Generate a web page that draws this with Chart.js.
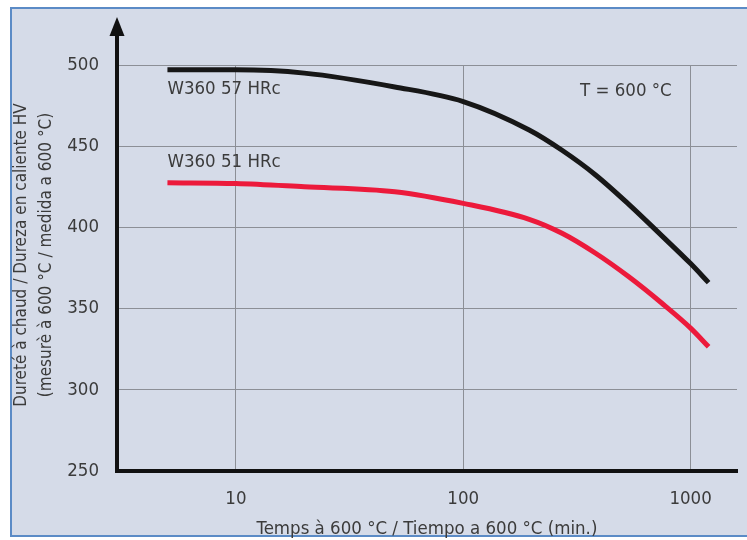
<!DOCTYPE html>
<html lang="es">

<head>
    <meta charset="UTF-8">
    <title>Dureza en caliente W360</title>
    <script src="https://cdn.jsdelivr.net/npm/chart.js"></script>
    <style>
        html, body { margin: 0; padding: 0; background: #fff; }
        #frame {
            position: absolute; left: 10px; top: 7px; width: 737px; height: 530px;
            background: #d5dbe8;
            border-top: 2px solid #5b8bc6; border-left: 2px solid #5b8bc6; border-bottom: 2px solid #5b8bc6;
            box-sizing: border-box;
        }
        #wrap { position: absolute; left: 0; top: 0; width: 747px; height: 540px; }
    </style>
</head>

<body>
    <div id="frame"></div>
    <div id="wrap"><canvas id="hardness"></canvas></div>

<script>
    // tiempo a 600 °C (min.)
    const timeMin = [5, 10, 20, 50, 100, 195, 272, 382, 535, 748, 1000, 1200];
    // W360 57 HRc
    const hv57 = [497, 497, 495, 486.5, 477.5, 460, 447.5, 432.3, 414.2, 394.8, 377.7, 366];
    // W360 51 HRc
    const hv51 = [427.5, 427, 425, 422, 414.8, 405, 396.4, 384.1, 369.6, 353.3, 338, 326.5];
    const xTicks = [10, 100, 1000];
    const yTicks = [250, 300, 350, 400, 450, 500];
    const yTitle = ['Dureté à chaud / Dureza en caliente HV', '(mesurè à 600 °C / medida a 600 °C)'];

    const FONT = "'DejaVu Sans Condensed', 'Liberation Sans Narrow', sans-serif";
    const textColor = '#3b3b3b';

    // etiquetas dentro del grafico (en coordenadas de datos)
    const notes = [
        { text: 'W360 57 HRc', x: 5, y: 485, align: 'left' },
        { text: 'W360 51 HRc', x: 5, y: 440, align: 'left' },
        { text: 'T = 600 °C', x: 826, y: 484, align: 'right' }
    ];

    const extras = {
        id: 'extras',
        afterDraw(chart) {
            const ctx = chart.ctx;
            const { left, top, bottom } = chart.chartArea;
            const xs = chart.scales.x, ys = chart.scales.y;
            ctx.save();
            // flecha del eje Y
            ctx.strokeStyle = '#111';
            ctx.lineWidth = 4;
            ctx.beginPath();
            ctx.moveTo(left, top);
            ctx.lineTo(left, top - 30);
            ctx.stroke();
            ctx.fillStyle = '#111';
            ctx.beginPath();
            ctx.moveTo(left, top - 48);
            ctx.lineTo(left - 7.5, top - 29);
            ctx.lineTo(left + 7.5, top - 29);
            ctx.closePath();
            ctx.fill();
            // textos
            ctx.font = '18.5px ' + FONT;
            ctx.fillStyle = textColor;
            ctx.textBaseline = 'middle';
            notes.forEach(n => {
                ctx.textAlign = n.align;
                ctx.fillText(n.text, xs.getPixelForValue(n.x), ys.getPixelForValue(n.y));
            });
            // titulo eje Y (dos lineas)
            ctx.translate(22, (top + bottom) / 2 - 13);
            ctx.rotate(-Math.PI / 2);
            ctx.font = '17px ' + FONT;
            ctx.textAlign = 'center';
            yTitle.forEach((t, i) => ctx.fillText(t, 0, i * 25));
            ctx.restore();
        }
    };

    const ctx = document.getElementById('hardness').getContext('2d');
    new Chart(ctx, {
        type: 'line',
        data: {
            labels: timeMin,
            datasets: [{
                label: 'W360 57 HRc',
                data: timeMin.map((t, i) => ({ x: t, y: hv57[i] })),
                borderColor: '#171717',
                borderWidth: 5,
                pointRadius: 0,
                cubicInterpolationMode: 'monotone'
            }, {
                label: 'W360 51 HRc',
                data: timeMin.map((t, i) => ({ x: t, y: hv51[i] })),
                borderColor: '#ec1a3b',
                borderWidth: 5,
                pointRadius: 0,
                cubicInterpolationMode: 'monotone'
            }]
        },
        options: {
            responsive: true,
            maintainAspectRatio: false,
            animation: false,
            layout: { padding: { top: 65, right: 10, left: 0, bottom: 0 } },
            plugins: {
                legend: { display: false },
                tooltip: { enabled: false }
            },
            scales: {
                x: {
                    type: 'logarithmic',
                    min: 3,
                    max: 1600,
                    afterBuildTicks: s => { s.ticks = xTicks.map(v => ({ value: v })); },
                    afterFit: s => { s.height = 69; },
                    grid: { color: '#8c8f96', lineWidth: 1, drawTicks: false },
                    border: { display: true, color: '#111', width: 4 },
                    ticks: {
                        padding: 17,
                        color: textColor,
                        font: { family: FONT, size: 18.5 },
                        callback: v => String(v)
                    },
                    title: {
                        display: true,
                        text: 'Temps à 600 °C / Tiempo a 600 °C (min.)',
                        color: textColor,
                        font: { family: FONT, size: 18.5, lineHeight: 1.2 },
                        padding: { top: 0, bottom: 0 }
                    }
                },
                y: {
                    min: 250,
                    max: 500,
                    afterBuildTicks: s => { s.ticks = yTicks.map(v => ({ value: v })); },
                    afterFit: s => { s.width = 117; },
                    grid: { color: '#8c8f96', lineWidth: 1, drawTicks: false },
                    border: { display: true, color: '#111', width: 4 },
                    ticks: {
                        padding: 18,
                        color: textColor,
                        font: { family: FONT, size: 18.5 }
                    }
                }
            }
        },
        plugins: [extras]
    });
</script>
</body>

</html>
